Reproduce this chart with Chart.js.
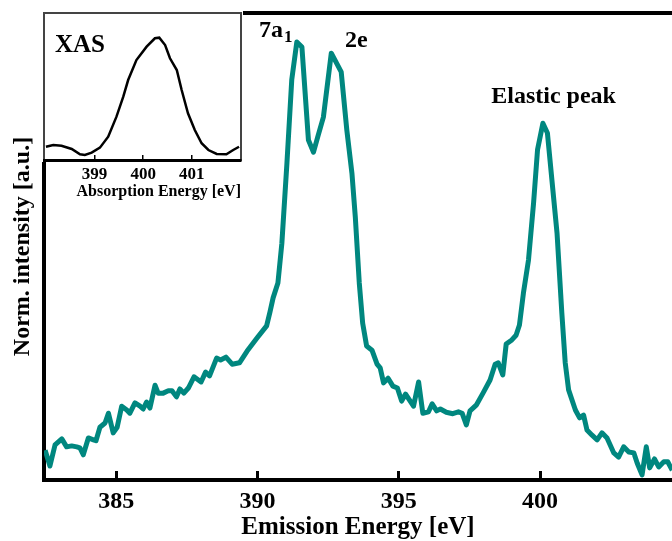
<!DOCTYPE html>
<html>
<head>
<meta charset="utf-8">
<script src="https://cdn.jsdelivr.net/npm/chart.js@4.4.0/dist/chart.umd.min.js"></script>
<style>
  html, body { margin: 0; padding: 0; background: #fff; }
  #wrap { position: relative; width: 672px; height: 541px; }
  #main { position: absolute; left: 0; top: 0; }
  #inset { position: absolute; left: 42px; top: 11px; }
</style>
</head>
<body>
<div id="wrap">
  <canvas id="main" width="672" height="541"></canvas>
  <canvas id="inset" width="204" height="192"></canvas>
</div>
<script>
// RIXS emission spectrum
const emissionEnergy = [382.48,382.65,382.83,383.07,383.24,383.42,383.60,383.71,383.83,384.01,
  384.19,384.28,384.42,384.60,384.72,384.89,385.03,385.19,385.37,385.48,
  385.66,385.84,385.95,386.07,386.19,386.37,386.48,386.66,386.84,386.97,
  387.13,387.25,387.39,387.55,387.75,388.00,388.16,388.30,388.55,388.69,
  388.88,389.10,389.36,389.63,389.98,390.32,390.44,390.55,390.72,390.86,
  391.04,391.21,391.39,391.57,391.80,391.98,392.14,392.33,392.61,392.96,
  393.16,393.34,393.46,393.60,393.72,393.86,394.05,394.23,394.34,394.46,
  394.62,394.79,394.95,395.10,395.24,395.52,395.70,395.85,396.05,396.18,
  396.34,396.47,396.68,396.91,397.11,397.24,397.39,397.52,397.75,397.98,
  398.23,398.41,398.52,398.68,398.80,399.00,399.15,399.27,399.41,399.59,
  399.77,399.91,400.10,400.26,400.42,400.60,400.77,400.89,401.01,401.25,
  401.40,401.54,401.66,401.84,402.02,402.19,402.37,402.61,402.78,402.96,
  403.14,403.32,403.44,403.61,403.76,403.88,404.05,404.20,404.38,404.52,
  404.68];
const emissionIntensity = [0.064,0.030,0.075,0.088,0.071,0.073,0.071,0.069,0.054,0.090,
  0.086,0.084,0.113,0.122,0.143,0.101,0.113,0.158,0.150,0.143,
  0.165,0.158,0.152,0.167,0.154,0.203,0.186,0.186,0.191,0.191,
  0.178,0.195,0.186,0.197,0.221,0.210,0.231,0.223,0.261,0.257,
  0.263,0.248,0.251,0.276,0.304,0.330,0.360,0.390,0.422,0.507,
  0.679,0.857,0.938,0.927,0.728,0.702,0.737,0.777,0.914,0.874,
  0.749,0.657,0.563,0.422,0.336,0.287,0.278,0.248,0.240,0.208,
  0.218,0.201,0.197,0.169,0.184,0.158,0.210,0.143,0.146,0.163,
  0.148,0.152,0.145,0.142,0.146,0.143,0.118,0.148,0.161,0.186,
  0.214,0.248,0.251,0.225,0.291,0.300,0.310,0.332,0.400,0.471,
  0.593,0.707,0.764,0.743,0.642,0.529,0.358,0.251,0.193,0.150,
  0.133,0.139,0.107,0.096,0.086,0.101,0.090,0.058,0.049,0.071,
  0.060,0.058,0.036,0.011,0.071,0.026,0.045,0.028,0.039,0.039,
  0.021];
const emissionTicks = [385, 390, 395, 400];

// XAS inset
const absorptionEnergy = [398.00,398.15,398.32,398.53,398.70,398.80,398.94,399.11,399.28,399.45,
  399.59,399.69,399.86,400.07,400.24,400.33,400.45,400.55,400.69,400.79,
  400.92,401.06,401.20,401.34,401.51,401.71,401.85,401.97];
const absorptionIntensity = [0.090,0.102,0.097,0.075,0.039,0.034,0.050,0.084,0.159,0.295,
  0.431,0.544,0.680,0.771,0.828,0.832,0.782,0.692,0.612,0.476,
  0.318,0.204,0.114,0.068,0.041,0.039,0.068,0.090];
const absorptionTicks = [399, 400, 401];

// peak labels: [text, subscript, energy, intensity, align]
const peakLabels = [
  ['7a', '1', 390.05, 0.949, 'left'],
  ['2e', '', 393.50, 0.927, 'center'],
  ['Elastic peak', '', 400.48, 0.807, 'center']
];

const serif = "'Liberation Serif', 'Times New Roman', serif";
const teal = '#00877f';

const labelPlugin = {
  id: 'peakLabels',
  afterDatasetsDraw(chart) {
    const ctx = chart.ctx, xs = chart.scales.x, ys = chart.scales.y;
    ctx.save();
    ctx.fillStyle = '#000';
    ctx.textBaseline = 'alphabetic';
    peakLabels.forEach(([txt, sub, ex, iy, align]) => {
      const px = xs.getPixelForValue(ex), py = ys.getPixelForValue(iy);
      ctx.font = 'bold 24px ' + serif;
      ctx.textAlign = align;
      ctx.fillText(txt, px, py);
      if (sub) {
        const w = ctx.measureText(txt).width;
        ctx.font = 'bold 17px ' + serif;
        ctx.textAlign = 'left';
        ctx.fillText(sub, px + w + 1, py + 5);
      }
    });
    ctx.restore();
  }
};

new Chart(document.getElementById('main'), {
  type: 'line',
  data: {
    datasets: [{
      data: emissionEnergy.map((e, i) => ({x: e, y: emissionIntensity[i]})),
      borderColor: teal,
      borderWidth: 5,
      pointRadius: 0,
      tension: 0,
      borderJoinStyle: 'round'
    }]
  },
  options: {
    responsive: false,
    animation: false,
    layout: { padding: 0 },
    plugins: { legend: { display: false }, tooltip: { enabled: false } },
    scales: {
      x: {
        type: 'linear',
        position: 'bottom',
        min: 382.44,
        max: 404.67,
        afterBuildTicks: s => { s.ticks = emissionTicks.map(v => ({value: v})); },
        afterFit: s => { s.height = 61; },
        grid: { drawOnChartArea: false, color: '#000', lineWidth: 3, tickLength: -9 },
        border: { color: '#000', width: 4 },
        ticks: { color: '#000', font: { family: serif, size: 24, weight: 'bold' }, padding: 16, maxRotation: 0 },
        title: { display: true, text: 'Emission Energy [eV]', color: '#000',
                 font: { family: serif, size: 25, weight: 'bold', lineHeight: 1.1 }, padding: { top: 0, bottom: 0 } }
      },
      top: {
        type: 'linear',
        position: 'top',
        min: 382.44,
        max: 404.67,
        afterFit: s => { s.height = 13; },
        grid: { display: false },
        border: { color: '#000', width: 4 },
        ticks: { display: false }
      },
      y: {
        min: 0,
        max: 1,
        afterFit: s => { s.width = 44; },
        grid: { display: false },
        border: { color: '#000', width: 4 },
        ticks: { display: false },
        title: { display: true, text: 'Norm. intensity [a.u.]', color: '#000',
                 font: { family: serif, size: 24, weight: 'bold', lineHeight: 1.2 }, padding: { top: 8, bottom: 0 } }
      }
    }
  },
  plugins: [labelPlugin]
});

const insetPlugin = {
  id: 'insetBox',
  beforeDraw(chart) {
    const {ctx, chartArea: a} = chart;
    ctx.save();
    ctx.fillStyle = '#fff';
    ctx.fillRect(a.left - 2, a.top - 2, a.right - a.left + 4, a.bottom - a.top + 4);
    ctx.strokeStyle = '#444';
    ctx.lineWidth = 2;
    ctx.strokeRect(a.left, a.top, a.right - a.left, a.bottom - a.top);
    ctx.restore();
  },
  afterDraw(chart) {
    const ctx = chart.ctx;
    const px = chart.scales.x.getPixelForValue(398.185);
    const py = chart.scales.y.getPixelForValue(0.735);
    ctx.save();
    ctx.fillStyle = '#000';
    ctx.font = 'bold 25px ' + serif;
    ctx.textAlign = 'left';
    ctx.textBaseline = 'alphabetic';
    ctx.fillText('XAS', px, py);
    ctx.restore();
  }
};

new Chart(document.getElementById('inset'), {
  type: 'line',
  data: {
    datasets: [{
      data: absorptionEnergy.map((e, i) => ({x: e, y: absorptionIntensity[i]})),
      borderColor: '#000',
      borderWidth: 2.5,
      pointRadius: 0,
      tension: 0
    }]
  },
  options: {
    responsive: false,
    animation: false,
    layout: { padding: { left: 2, top: 2, right: 5, bottom: 0 } },
    plugins: { legend: { display: false }, tooltip: { enabled: false } },
    scales: {
      x: {
        type: 'linear',
        min: 397.96,
        max: 402.01,
        afterBuildTicks: s => { s.ticks = absorptionTicks.map(v => ({value: v})); },
        afterFit: s => { s.height = 43; },
        grid: { drawOnChartArea: false, color: '#000', lineWidth: 1.5, tickLength: -5 },
        border: { color: '#000', width: 3 },
        ticks: { color: '#000', font: { family: serif, size: 17, weight: 'bold' }, padding: 9, maxRotation: 0 },
        title: { display: true, text: 'Absorption Energy [eV]', color: '#000', align: 'end',
                 font: { family: serif, size: 16, weight: 'bold', lineHeight: 1.2 }, padding: { top: 0, bottom: 2 } }
      },
      y: {
        display: false,
        min: 0,
        max: 1
      }
    }
  },
  plugins: [insetPlugin]
});
</script>
</body>
</html>
